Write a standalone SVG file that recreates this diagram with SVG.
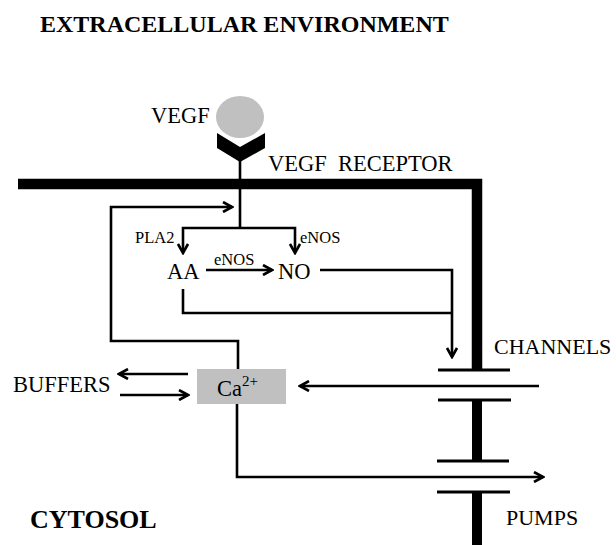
<svg xmlns="http://www.w3.org/2000/svg" width="616" height="545" viewBox="0 0 616 545">
<defs>
<marker id="arr" viewBox="0 0 12 12" refX="10" refY="6" markerWidth="12" markerHeight="12" markerUnits="userSpaceOnUse" orient="auto">
<path d="M1,1 L10,6 L1,11" fill="none" stroke="#000" stroke-width="2.6"/>
</marker>
<style>
.t{font-family:"Liberation Serif","Times New Roman",serif;fill:#000}
.b{font-weight:bold}
.c{fill:none;stroke:#000;stroke-width:2.6}
.bar{stroke:#000;stroke-width:3}
.mem{fill:none;stroke:#000;stroke-linejoin:miter}
</style>
</defs>
<rect width="616" height="545" fill="#fff"/>
<text class="t b" x="40" y="32" font-size="24">EXTRACELLULAR ENVIRONMENT</text>
<text class="t b" x="30" y="528" font-size="26">CYTOSOL</text>

<g id="membrane">
<polyline class="mem" points="18,184 477,184 477,370" stroke-width="10.5"/>
<line class="mem" x1="477" y1="400" x2="477" y2="461" stroke-width="10"/>
<line class="mem" x1="477" y1="492" x2="477" y2="545" stroke-width="10"/>
</g>

<g id="vegf">
<ellipse cx="240" cy="117" rx="24" ry="21" fill="#c0c0c0"/>
<text class="t" x="151" y="123" font-size="22.5">VEGF</text>
</g>

<g id="receptor">
<polygon points="217,133 240,147 265,133 265,148 240,162 217,148" fill="#000"/>
<text class="t" x="268" y="171" font-size="22.5">VEGF</text>
<text class="t" x="338" y="171" font-size="22.5">RECEPTOR</text>
</g>

<g id="channels">
<line class="bar" x1="438" y1="370" x2="510" y2="370"/>
<line class="bar" x1="438" y1="400" x2="511" y2="400"/>
<text class="t" x="494" y="354" font-size="22">CHANNELS</text>
</g>

<g id="pumps">
<line class="bar" x1="437" y1="461" x2="509" y2="461"/>
<line class="bar" x1="437" y1="492" x2="510" y2="492"/>
<text class="t" x="506" y="525" font-size="22">PUMPS</text>
</g>

<g id="aa">
<text class="t" x="167" y="279" font-size="22.5">AA</text>
<text class="t" x="135" y="243" font-size="16.5">PLA2</text>
</g>

<g id="no">
<text class="t" x="278" y="279" font-size="22.5">NO</text>
<text class="t" x="300" y="243" font-size="16.5">eNOS</text>
</g>

<g id="ca">
<rect x="197" y="369" width="89" height="35" fill="#c0c0c0"/>
<text class="t" x="217" y="396" font-size="22.5">Ca<tspan font-size="15" dy="-10">2+</tspan></text>
</g>

<g id="buffers">
<text class="t" x="13" y="392" font-size="22.5">BUFFERS</text>
</g>

<g id="connectors">
<line class="c" x1="240" y1="160" x2="240" y2="229"/>
<polyline class="c" points="240,228 183,228 183,253" marker-end="url(#arr)"/>
<polyline class="c" points="240,228 295,228 295,253" marker-end="url(#arr)"/>
<line class="c" x1="206" y1="270" x2="272" y2="270" marker-end="url(#arr)"/>
<text class="t" x="214" y="265" font-size="16.5">eNOS</text>
<polyline class="c" points="320,270 452,270 452,357" marker-end="url(#arr)"/>
<polyline class="c" points="183,289 183,313 452,313"/>
<polyline class="c" points="238,369 238,341 111,341 111,207 232,207" marker-end="url(#arr)"/>
<line class="c" x1="539" y1="386" x2="300" y2="386" marker-end="url(#arr)"/>
<polyline class="c" points="237,404 237,477 543,477" marker-end="url(#arr)"/>
<line class="c" x1="188" y1="374" x2="119" y2="374" marker-end="url(#arr)"/>
<line class="c" x1="120" y1="395" x2="188" y2="395" marker-end="url(#arr)"/>
</g>
</svg>
